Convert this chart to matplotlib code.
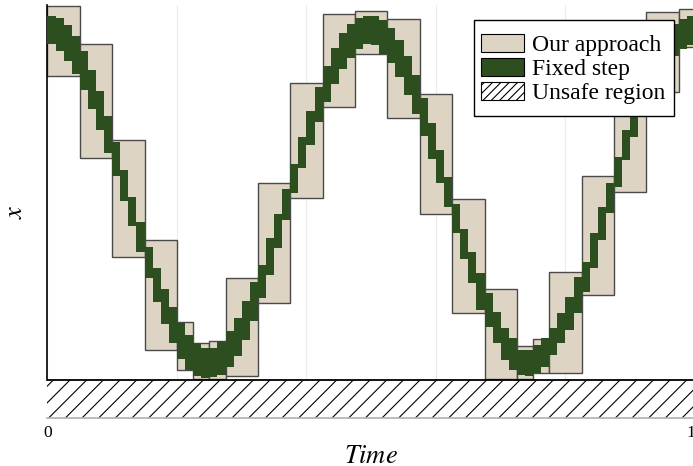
import numpy as np
import matplotlib.pyplot as plt
from matplotlib.patches import Patch, Rectangle

plt.rcParams['font.family'] = ['Liberation Serif', 'DejaVu Serif']
plt.rcParams['mathtext.fontset'] = 'stix'
plt.rcParams['hatch.linewidth'] = 0.8

# reachable boxes of our approach: time edges, upper / lower bounds
box_edges = [0, 0.5, 1.0, 1.5, 2.0, 2.25, 2.5, 2.75, 3.25, 3.75, 4.25, 4.75,
             5.25, 5.75, 6.25, 6.75, 7.25, 7.5, 7.75, 8.25, 8.75, 9.25, 9.75, 10.25]
box_hi = [2.033, 1.828, 1.303, 0.761, 0.315, 0.201, 0.212, 0.554, 1.071, 1.614, 1.989,
          2.005, 1.962, 1.554, 0.984, 0.495, 0.185, 0.223, 0.587, 1.109, 1.630, 2.000, 2.016]
box_lo = [1.654, 1.205, 0.670, 0.163, 0.054, 0.005, 0.005, 0.022, 0.418, 0.989, 1.484,
          1.772, 1.424, 0.902, 0.364, 0.005, 0.005, 0.038, 0.038, 0.462, 1.022, 1.565, 1.810]

# fixed step enclosures
step_dt = 0.125
step_hi = [1.978, 1.967, 1.929, 1.870, 1.788, 1.685, 1.571, 1.435, 1.293, 1.141,
           0.995, 0.859, 0.723, 0.609, 0.495, 0.397, 0.310, 0.245, 0.201, 0.174,
           0.174, 0.212, 0.266, 0.337, 0.429, 0.533, 0.625, 0.772, 0.902, 1.038,
           1.174, 1.321, 1.462, 1.592, 1.707, 1.804, 1.886, 1.935, 1.967, 1.978,
           1.978, 1.957, 1.913, 1.848, 1.761, 1.658, 1.533, 1.397, 1.250, 1.103,
           0.957, 0.821, 0.696, 0.582, 0.473, 0.370, 0.283, 0.228, 0.163, 0.163,
           0.190, 0.228, 0.283, 0.364, 0.451, 0.560, 0.641, 0.799, 0.940, 1.071,
           1.212, 1.359, 1.489, 1.609, 1.723, 1.815, 1.886, 1.935, 1.962, 1.978]
step_lo = [1.826, 1.788, 1.734, 1.663, 1.576, 1.473, 1.359, 1.234, 1.109, 0.973,
           0.837, 0.696, 0.554, 0.424, 0.304, 0.201, 0.114, 0.054, 0.022, 0.011,
           0.016, 0.027, 0.071, 0.130, 0.217, 0.321, 0.446, 0.571, 0.717, 0.870,
           1.016, 1.152, 1.277, 1.402, 1.511, 1.609, 1.690, 1.750, 1.799, 1.826,
           1.821, 1.772, 1.723, 1.647, 1.549, 1.446, 1.326, 1.201, 1.071, 0.940,
           0.799, 0.658, 0.527, 0.380, 0.288, 0.201, 0.109, 0.054, 0.027, 0.022,
           0.038, 0.071, 0.136, 0.201, 0.272, 0.364, 0.478, 0.609, 0.761, 0.908,
           1.049, 1.196, 1.321, 1.435, 1.538, 1.630, 1.707, 1.761, 1.799, 1.821]

unsafe_floor = -0.2065
y_top = 2.038
t_max = 10

box_color = '#ded4c4'
step_color = '#2d4f20'

fig = plt.figure(figsize=(6.93, 4.66), dpi=100)
ax = fig.add_axes([0.0685, 0.103, 0.9343, 0.8863])

# unsafe region
ax.fill_between([0, t_max + 1], unsafe_floor, 0, facecolor='white', edgecolor='black',
                hatch='//', linewidth=0, zorder=1)
ax.axhline(unsafe_floor, color='#b0b0b0', lw=1.2, clip_on=False, zorder=1)

# our approach
ax.bar(box_edges[:-1], np.subtract(box_hi, box_lo), width=np.diff(box_edges),
       bottom=box_lo, align='edge', color=box_color, edgecolor='#4a4a4a',
       linewidth=1.0, zorder=2)

# fixed step
step_t = np.arange(len(step_hi) + 1) * step_dt
ax.fill_between(step_t, step_lo + step_lo[-1:], step_hi + step_hi[-1:], step='post',
                color=step_color, linewidth=0, zorder=3)

ax.axhline(0, color='black', lw=1.3, zorder=4)

ax.set_xlim(0, t_max)
ax.set_ylim(unsafe_floor, y_top)
for s in ['top', 'right', 'bottom']:
    ax.spines[s].set_visible(False)
ax.spines['left'].set_bounds(0, y_top)
ax.spines['left'].set_linewidth(1.2)
ax.set_yticks([])
ax.set_xticks([0, 2, 4, 6, 8, 10])
ax.set_xticklabels(['0', '', '', '', '', '10'])
ax.tick_params(axis='x', length=0, labelsize=12.5, pad=5)
ax.grid(axis='x', color='#ececec', lw=0.8)
ax.set_axisbelow(True)

ax.set_xlabel('$Time$', fontsize=19, labelpad=3.5)
ax.set_ylabel('$x$', fontsize=19)
ax.yaxis.set_label_coords(-0.031, 0.5)

# legend with its own frame, so the padding can differ top/side as in the original
frame = Rectangle((473.5 / 693, 350 / 466), 200 / 693, 96 / 466, transform=fig.transFigure,
                  facecolor='white', edgecolor='black', linewidth=1.0, zorder=8)
fig.patches.append(frame)

handles = [Patch(facecolor=box_color, edgecolor='black', lw=0.8, label='Our approach'),
           Patch(facecolor=step_color, edgecolor='black', lw=0.8, label='Fixed step'),
           Patch(facecolor='white', edgecolor='black', lw=0.8, hatch='////', label='Unsafe region')]
leg = fig.legend(handles=handles, loc='center left', bbox_to_anchor=(474 / 693, 397 / 466),
                 fontsize=17, frameon=False, borderpad=0.3, labelspacing=0.08,
                 handlelength=1.8, handleheight=0.8, handletextpad=0.35, borderaxespad=0)
leg.set_zorder(10)

fig.savefig('out.png', dpi=100)
